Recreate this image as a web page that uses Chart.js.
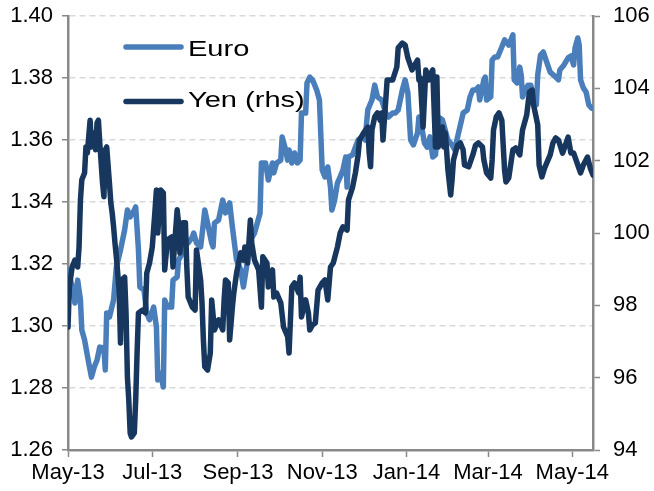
<!DOCTYPE html>
<html>
<head>
<meta charset="utf-8">
<script src="https://cdn.jsdelivr.net/npm/chart.js@4.4.1/dist/chart.umd.min.js"></script>
<style>
html,body{margin:0;padding:0;background:#fff;}
#wrap{width:654px;height:491px;position:relative;}
</style>
</head>
<body>
<div id="wrap"><canvas id="c" width="654" height="491"></canvas></div>
<script>
// Series names
const seriesNames = ['Euro', 'Yen (rhs)'];

// X axis: days since 1 May 2013, tick positions and labels
const xTickDays = [0, 61, 123, 184, 245, 304, 365];
const xTickLabels = ['May-13', 'Jul-13', 'Sep-13', 'Nov-13', 'Jan-14', 'Mar-14', 'May-14'];

// Euro (USD per EUR), left axis
const euroDays = [
  0,3,5,7,9,10,12,15,17,19,
  21,23,26,27,28,30,33,35,38,41,
  43,45,48,49,51,52,55,57,59,62,
  64,65,67,69,70,72,75,76,79,80,
  83,85,87,90,91,93,96,98,99,101,
  104,105,106,109,112,114,117,119,122,125,
  127,130,132,135,139,140,143,145,148,149,
  151,154,155,157,159,160,162,164,166,168,
  169,172,173,175,177,180,182,184,186,188,
  190,191,193,195,197,199,201,202,203,206,
  208,210,213,215,217,220,222,224,227,230,
  232,235,237,239,242,244,246,248,250,253,
  254,256,258,260,262,264,266,268,271,273,
  275,278,280,282,284,286,289,291,293,295,
  297,298,301,302,303,306,307,309,311,314,
  316,319,322,323,325,327,328,329,331,333,
  335,337,339,340,342,344,346,349,353,355,
  356,359,362,364,366,367,369,370,371,373,
  375,377,379
];
const euroValues = [
  1.318,1.3126,1.3074,1.3148,1.3084,1.2987,1.2955,1.2881,1.2835,1.2868,
  1.289,1.2932,1.2929,1.2858,1.3042,1.3029,1.3084,1.319,1.3245,1.331,
  1.3374,1.3352,1.3374,1.3384,1.3245,1.3126,1.3116,1.3042,1.302,1.3061,
  1.2997,1.2826,1.2848,1.2803,1.3084,1.3061,1.3061,1.3148,1.3158,1.3213,
  1.3235,1.3277,1.3268,1.3287,1.33,1.3268,1.3255,1.3332,1.3374,1.3332,
  1.3268,1.3255,1.3332,1.3342,1.3406,1.3365,1.3397,1.3319,1.3213,1.3181,
  1.3126,1.3213,1.3277,1.33,1.3364,1.3526,1.3526,1.3471,1.3526,1.3494,
  1.3526,1.3535,1.361,1.3577,1.3535,1.3568,1.3526,1.3558,1.3526,1.3535,
  1.3687,1.3687,1.3784,1.3803,1.3794,1.3761,1.3729,1.3503,1.3481,1.3513,
  1.3448,1.3374,1.3406,1.3461,1.3481,1.3503,1.3545,1.3448,1.3545,1.3552,
  1.3577,1.36,1.361,1.36,1.3697,1.3729,1.3777,1.3739,1.3729,1.3687,
  1.3674,1.3687,1.3687,1.3697,1.3761,1.3794,1.3752,1.36,1.3584,1.3623,
  1.3674,1.3642,1.359,1.3577,1.361,1.3545,1.3552,1.3674,1.3665,1.3632,
  1.36,1.3584,1.3568,1.361,1.3648,1.3687,1.3697,1.3739,1.3761,1.3761,
  1.3771,1.3729,1.3794,1.3803,1.3729,1.3739,1.3858,1.3868,1.3868,1.39,
  1.3923,1.3906,1.3939,1.3794,1.3784,1.3835,1.381,1.3739,1.3761,1.3777,
  1.3777,1.3729,1.3713,1.381,1.3874,1.3884,1.3858,1.3819,1.3803,1.3794,
  1.3826,1.3842,1.3865,1.3871,1.3842,1.3897,1.3929,1.3906,1.3794,1.3768,
  1.3755,1.3713,1.3703
];

// Yen (JPY per USD), right axis
const yenDays = [
  0,1,3,5,7,8,9,10,12,13,
  14,16,17,19,20,21,22,23,25,26,
  27,28,30,31,32,33,34,35,37,38,
  39,41,42,43,44,45,46,48,49,50,
  51,54,56,57,59,61,63,64,65,67,
  69,70,72,75,76,79,80,81,83,85,
  86,87,90,92,93,96,97,98,99,101,
  103,104,106,109,112,113,114,116,117,119,
  120,122,125,127,128,130,132,133,135,138,
  140,141,144,145,148,149,151,154,156,159,
  160,162,164,167,168,169,172,174,175,177,
  179,181,184,186,188,190,192,195,197,199,
  202,203,206,208,210,211,214,217,218,219,
  220,222,224,226,227,228,231,233,235,238,
  239,242,244,246,249,251,253,254,255,256,
  257,259,261,262,264,266,267,268,269,271,
  272,273,274,275,277,278,279,282,284,286,
  287,290,293,295,297,300,301,303,306,307,
  308,310,312,314,316,317,319,322,324,327,
  329,332,334,336,337,340,341,343,345,349,
  351,353,355,358,360,362,364,366,369,371,
  373,376,378,380
];
const yenValues = [
  97.40,98.51,99.06,99.25,99.06,99.61,100.91,101.47,101.66,102.38,
  102.21,103.12,102.38,102.77,102.30,103.04,103.12,102.49,101.38,101.00,
  102.30,102.38,101.38,100.83,100.55,100.17,99.72,99.34,98.42,96.96,
  98.70,98.78,97.79,96.02,95.38,94.47,94.36,94.47,95.38,96.68,
  97.79,97.87,97.79,98.89,99.17,99.61,100.64,101.19,100.00,101.19,
  101.11,98.98,99.81,99.89,99.06,100.64,100.28,99.45,100.28,100.28,
  99.06,98.23,97.95,97.87,99.53,98.70,98.07,97.04,96.30,96.21,
  96.68,98.15,97.32,97.60,97.32,98.15,98.70,98.62,97.04,97.95,
  98.34,98.89,99.45,99.25,99.61,99.17,100.36,99.72,99.25,98.98,
  97.95,99.34,99.17,98.51,98.98,98.23,98.34,98.07,97.40,97.13,
  96.68,98.51,98.62,98.34,98.78,97.68,98.15,97.79,97.32,97.46,
  97.51,98.42,98.62,98.70,98.15,99.06,99.17,99.61,100.00,100.17,
  100.08,100.91,101.27,101.66,102.16,102.57,102.77,102.93,102.21,101.83,
  102.85,103.21,103.32,103.12,103.32,102.57,104.23,104.23,104.23,104.59,
  105.12,105.25,105.20,104.84,104.51,104.65,104.78,104.23,104.29,103.59,
  102.93,104.51,104.23,104.37,104.51,102.38,104.31,102.38,102.57,102.93,
  102.38,102.77,102.30,101.74,101.05,101.47,102.02,102.43,102.49,102.30,
  101.88,101.83,102.16,102.43,102.49,102.38,102.02,101.66,101.52,102.02,
  102.85,103.21,103.32,103.12,101.74,101.41,101.52,102.30,102.35,102.16,
  102.85,103.26,103.90,103.95,103.54,102.99,101.88,101.55,101.80,102.16,
  102.49,102.63,102.57,102.21,102.43,102.65,102.21,102.21,101.88,101.66,
  101.88,102.10,101.80,101.60
];

const AXIS_GRAY = '#898989';
const GRID_GRAY = '#D9D9D9';
const EURO_COLOR = '#4A7EBB';
const YEN_COLOR = '#17375E';
const FONT_FAMILY = "'Liberation Sans', Arial, sans-serif";
const tickFont = {family: FONT_FAMILY, size: 22};

const toPoints = (days, vals) => days.map((d, i) => ({x: d, y: vals[i]}));

const inlineLegend = {
  id: 'inlineLegend',
  afterDatasetsDraw(chart) {
    const ctx = chart.ctx;
    const rows = [{lineY: 47, baseY: 56}, {lineY: 101.5, baseY: 107}];
    chart.data.datasets.forEach((ds, i) => {
      const r = rows[i];
      ctx.save();
      ctx.strokeStyle = ds.borderColor;
      ctx.lineWidth = 5.5;
      ctx.lineCap = 'round';
      ctx.beginPath();
      ctx.moveTo(126, r.lineY);
      ctx.lineTo(181, r.lineY);
      ctx.stroke();
      ctx.fillStyle = '#000';
      ctx.font = '22px ' + FONT_FAMILY;
      ctx.textBaseline = 'alphabetic';
      ctx.translate(188, r.baseY);
      ctx.scale(1.32, 1);
      ctx.fillText(ds.label, 0, 0);
      ctx.restore();
    });
  }
};

const noVPad = (w) => (s) => { s.width = w; s.paddingTop = 0; s.paddingBottom = 0; };

new Chart(document.getElementById('c'), {
  type: 'line',
  data: {
    datasets: [
      {
        label: seriesNames[0],
        data: toPoints(euroDays, euroValues),
        yAxisID: 'y',
        borderColor: EURO_COLOR,
        backgroundColor: EURO_COLOR,
        borderWidth: 5.5,
        pointRadius: 0,
        tension: 0,
        borderJoinStyle: 'round',
        borderCapStyle: 'round',
        order: 1
      },
      {
        label: seriesNames[1],
        data: toPoints(yenDays, yenValues),
        yAxisID: 'y2',
        borderColor: YEN_COLOR,
        backgroundColor: YEN_COLOR,
        borderWidth: 5.5,
        pointRadius: 0,
        tension: 0,
        borderJoinStyle: 'round',
        borderCapStyle: 'round',
        order: 0
      }
    ]
  },
  options: {
    responsive: false,
    animation: false,
    devicePixelRatio: 1,
    layout: {padding: {top: 16, left: 0, right: 0, bottom: 0}},
    plugins: {legend: {display: false}, tooltip: {enabled: false}},
    scales: {
      x: {
        type: 'linear',
        min: 0,
        max: 380,
        afterBuildTicks: (s) => { s.ticks = xTickDays.map(v => ({value: v})); },
        afterFit: (s) => { s.height = 41; s.paddingLeft = 0; s.paddingRight = 0; },
        ticks: {
          autoSkip: false,
          maxRotation: 0,
          padding: 3,
          color: '#000',
          font: tickFont,
          callback: (v, i) => xTickLabels[i]
        },
        grid: {drawOnChartArea: false, drawTicks: true, tickLength: 7, tickColor: AXIS_GRAY, tickWidth: 1.5},
        border: {color: AXIS_GRAY, width: 2.5}
      },
      y: {
        position: 'left',
        min: 1.26,
        max: 1.40,
        afterFit: noVPad(68),
        ticks: {
          stepSize: 0.02,
          padding: 9,
          color: '#000',
          font: tickFont,
          callback: (v) => Number(v).toFixed(2)
        },
        grid: {color: GRID_GRAY, lineWidth: 1.5, drawTicks: true, tickLength: 6, tickColor: AXIS_GRAY, tickWidth: 1.5},
        border: {color: AXIS_GRAY, width: 2.5, dash: [6, 4]}
      },
      y2: {
        position: 'right',
        min: 94,
        max: 106,
        afterFit: noVPad(61),
        ticks: {
          stepSize: 2,
          padding: 13,
          color: '#000',
          font: tickFont
        },
        grid: {drawOnChartArea: false, drawTicks: true, tickLength: 7, tickColor: AXIS_GRAY, tickWidth: 1.5},
        border: {color: AXIS_GRAY, width: 2.5}
      }
    }
  },
  plugins: [inlineLegend]
});
</script>
</body>
</html>
